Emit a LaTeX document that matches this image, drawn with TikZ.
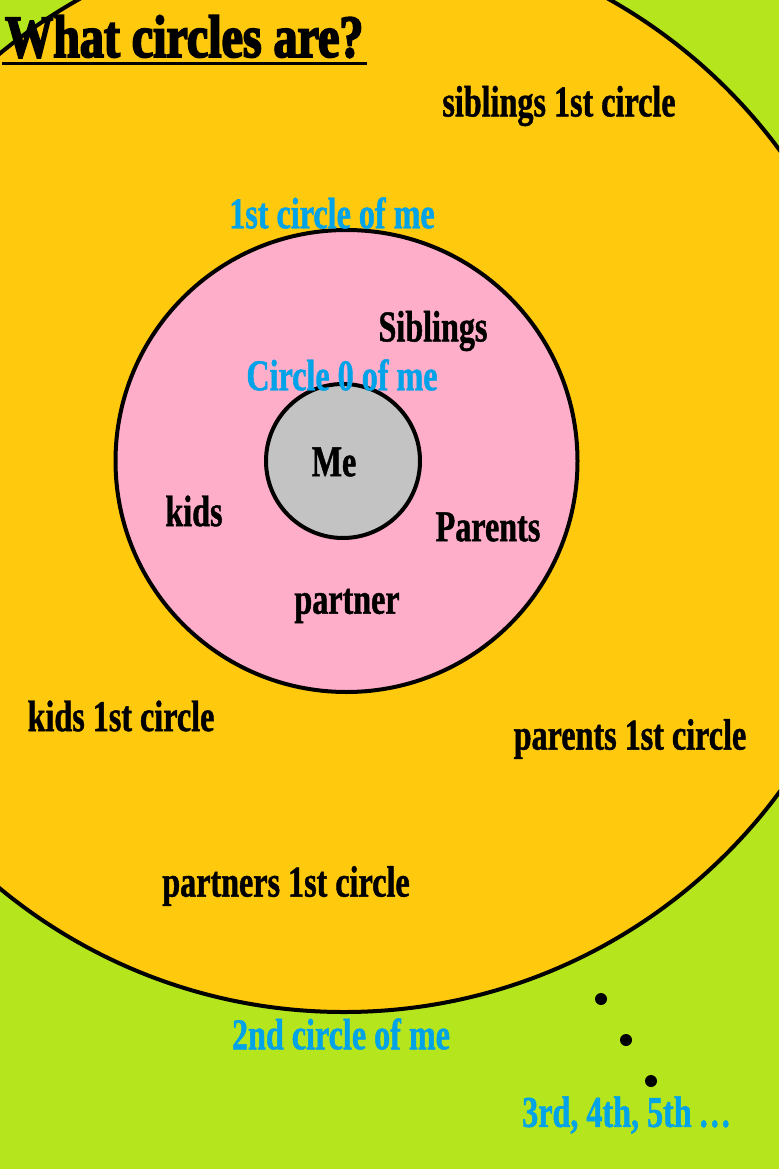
\documentclass[tikz,border=0pt]{standalone}
\usepackage{fontspec}
\newfontfamily\labfont{Liberation Serif}[FakeStretch=0.73,FakeBold=1]
\newfontfamily\titfont{Liberation Serif}[FakeStretch=0.8,FakeBold=3]
\definecolor{lime}{HTML}{B5E61D}
\definecolor{gold}{HTML}{FFC90E}
\definecolor{pinkc}{HTML}{FFAEC9}
\definecolor{grayc}{HTML}{C3C3C3}
\definecolor{bluec}{HTML}{00A2E8}
\tikzset{
  ring/.style={circle, draw=black, line width=4pt, inner sep=0pt},
  lab/.style={font=\labfont\bfseries\fontsize{44}{44}\selectfont, text=black, inner sep=0pt},
  blab/.style={lab, text=bluec},
  dot/.style={circle, fill=black, inner sep=0pt, minimum size=12pt}
}
\begin{document}
\begin{tikzpicture}[x=1pt,y=-1pt]
\useasboundingbox (0,0) rectangle (779,1169);
\fill[lime] (0,0) rectangle (779,1169);
\begin{scope}
\clip (0,0) rectangle (779,1169);
\node[ring, fill=gold, minimum size=1082pt] (c2) at (344,471) {};
\end{scope}
\node[ring, fill=pinkc, minimum size=462pt] (c1) at (346.5,461) {};
\node[ring, fill=grayc, minimum size=154pt] (c0) at (343,461) {};

\node[inner sep=0pt, anchor=base west] (title) at (5,57)
  {\titfont\bfseries\fontsize{60}{60}\selectfont What circles are?};
\draw[line width=3pt] (2,64) -- (367,64);

\node[lab] (sib1) at (559,106) {siblings 1st circle};
\node[blab] (first) at (332,213) {1st circle of me};
\node[lab] (sib) at (433,331) {Siblings};
\node[blab] (zero) at (342,375) {Circle 0 of me};
\node[lab] (me) at (334,462) {Me};
\node[lab] (kids) at (194,511) {kids};
\node[lab] (par) at (488,527) {Parents};
\node[lab] (partner) at (347,606) {partner};
\node[lab] (kids1) at (121,716) {kids 1st circle};
\node[lab] (par1) at (630,739) {parents 1st circle};
\node[lab] (partner1) at (286,886) {partners 1st circle};
\node[blab] (second) at (341,1034) {2nd circle of me};
\node[blab] (more) at (626,1115) {3rd, 4th, 5th .\kern3pt.\kern3pt.};

\node[dot] (d1) at (601,999) {};
\node[dot] (d2) at (626,1040) {};
\node[dot] (d3) at (651,1081) {};
\end{tikzpicture}
\end{document}
